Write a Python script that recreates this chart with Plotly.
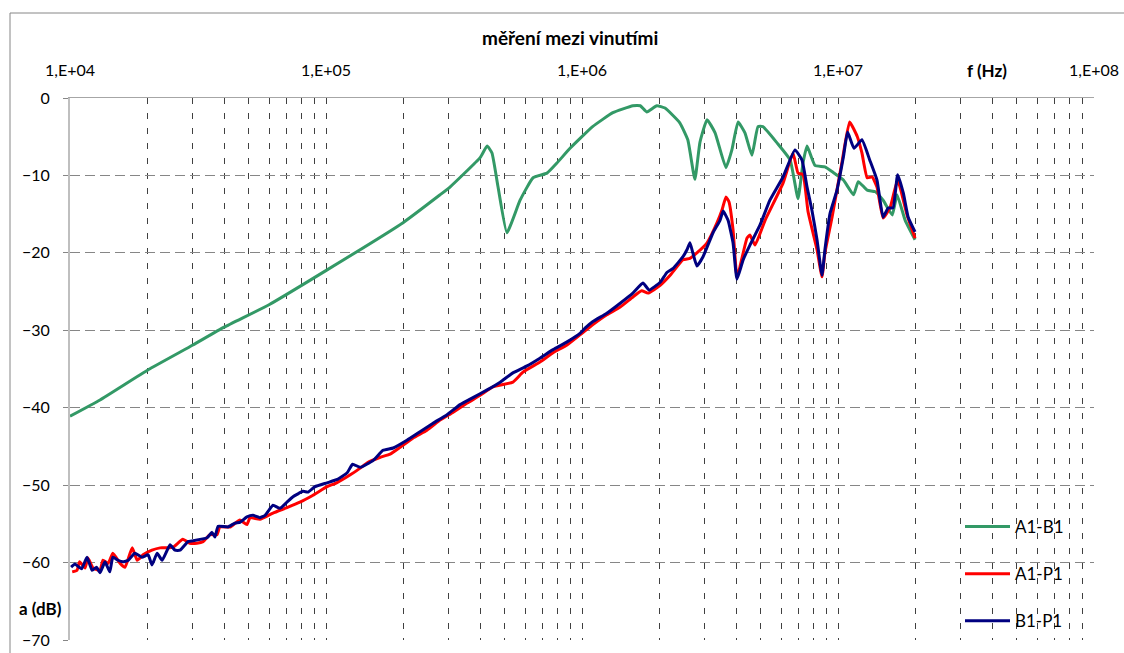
import plotly.graph_objects as go

# ---------------- data ----------------
f_ab = [1.00e4, 1.31e4, 2.02e4, 3.02e4, 4.00e4, 5.99e4, 1.01e5, 2.00e5, 2.79e5, 3.05e5,
        4.00e5, 4.26e5, 4.45e5, 4.70e5, 5.09e5, 5.73e5, 6.44e5, 7.30e5, 7.98e5, 8.98e5,
        1.10e6, 1.32e6, 1.58e6, 1.69e6, 1.79e6, 1.96e6, 2.11e6, 2.41e6, 2.59e6, 2.76e6,
        2.89e6, 3.08e6, 3.31e6, 3.65e6, 3.85e6, 4.07e6, 4.33e6, 4.61e6, 4.87e6, 5.09e6,
        5.78e6, 6.50e6, 6.98e6, 7.30e6, 7.57e6, 8.13e6, 8.89e6, 9.56e6, 1.05e7, 1.15e7,
        1.20e7, 1.30e7, 1.40e7, 1.50e7, 1.63e7, 1.70e7, 1.83e7, 2.00e7]
a_ab = [-41.1, -39.0, -35.1, -31.9, -29.6, -26.7, -22.2, -16.1, -12.5, -11.5,
        -7.7, -6.2, -7.1, -11.5, -17.4, -13.2, -10.3, -9.7, -8.4, -6.5,
        -3.7, -1.9, -1.0, -1.0, -1.8, -1.0, -1.3, -3.2, -5.4, -10.5,
        -5.7, -2.8, -4.5, -9.0, -6.7, -3.1, -4.5, -7.4, -3.7, -3.7,
        -5.8, -8.0, -13.0, -8.4, -6.2, -8.7, -8.9, -9.6, -10.6, -12.5,
        -10.8, -11.9, -12.1, -13.2, -15.1, -12.5, -15.8, -18.3]

f_ap = [1.02e4, 1.065e4, 1.09e4, 1.145e4, 1.175e4, 1.23e4, 1.31e4, 1.345e4, 1.41e4, 1.47e4,
        1.57e4, 1.64e4, 1.75e4, 1.83e4, 1.93e4, 2.09e4, 2.25e4, 2.39e4, 2.53e4, 2.76e4,
        2.94e4, 3.13e4, 3.31e4, 3.52e4, 3.75e4, 3.85e4, 4.22e4, 4.61e4, 4.91e4, 5.05e4,
        5.52e4, 6.21e4, 7.04e4, 7.91e4, 8.90e4, 1.01e5, 1.10e5, 1.24e5, 1.36e5, 1.45e5,
        1.63e5, 1.78e5, 1.95e5, 2.19e5, 2.48e5, 2.79e5, 3.13e5, 3.56e5, 4.00e5, 4.49e5,
        5.37e5, 5.88e5, 6.85e5, 7.71e5, 8.74e5, 9.82e5, 1.10e6, 1.25e6, 1.41e6, 1.58e6,
        1.71e6, 1.81e6, 2.02e6, 2.21e6, 2.48e6, 2.64e6, 2.81e6, 3.08e6, 3.37e6, 3.52e6,
        3.65e6, 3.75e6, 3.89e6, 4.03e6, 4.14e6, 4.41e6, 4.53e6, 4.74e6, 5.19e6, 6.10e6,
        6.67e6, 6.98e6, 7.30e6, 7.64e6, 8.28e6, 8.66e6, 8.89e6, 9.48e6, 1.04e7, 1.11e7,
        1.19e7, 1.24e7, 1.30e7, 1.36e7, 1.42e7, 1.50e7, 1.60e7, 1.71e7, 1.86e7, 2.00e7]
a_ap = [-61.2, -61.0, -59.9, -60.7, -59.4, -60.7, -61.0, -59.7, -60.1, -58.8,
        -60.1, -60.6, -58.1, -59.7, -59.0, -58.4, -58.1, -58.1, -58.0, -57.0,
        -57.5, -57.5, -57.3, -56.4, -56.4, -55.4, -55.4, -54.5, -55.1, -54.2,
        -54.4, -53.6, -52.9, -52.2, -51.3, -50.2, -49.7, -48.7, -47.8, -47.1,
        -46.4, -46.0, -45.1, -43.9, -42.9, -41.6, -40.6, -39.4, -38.4, -37.3,
        -36.7, -35.4, -34.1, -32.9, -31.9, -30.6, -29.3, -28.0, -27.0, -25.7,
        -24.9, -25.2, -24.2, -22.9, -20.9, -20.7, -20.0, -18.7, -16.1, -14.5,
        -12.8, -13.4, -17.0, -23.2, -21.8, -18.1, -17.7, -19.0, -15.8, -11.0,
        -7.1, -9.7, -9.9, -14.7, -19.6, -23.1, -20.0, -15.4, -8.0, -3.1,
        -5.0, -7.1, -10.3, -10.2, -11.5, -15.5, -14.1, -10.6, -15.1, -18.1]

f_bp = [1.01e4, 1.046e4, 1.11e4, 1.165e4, 1.22e4, 1.27e4, 1.31e4, 1.37e4, 1.43e4, 1.47e4,
        1.54e4, 1.61e4, 1.69e4, 1.79e4, 1.91e4, 2.02e4, 2.09e4, 2.19e4, 2.29e4, 2.46e4,
        2.57e4, 2.69e4, 2.89e4, 3.02e4, 3.43e4, 3.59e4, 3.68e4, 3.79e4, 4.14e4, 4.41e4,
        4.61e4, 4.91e4, 5.19e4, 5.52e4, 5.78e4, 6.21e4, 6.61e4, 7.04e4, 7.43e4, 8.13e4,
        8.51e4, 9.06e4, 1.01e5, 1.10e5, 1.21e5, 1.27e5, 1.36e5, 1.53e5, 1.67e5, 1.83e5,
        2.07e5, 2.33e5, 2.62e5, 2.97e5, 3.34e5, 3.75e5, 4.26e5, 4.79e5, 5.37e5, 6.10e5,
        6.85e5, 7.71e5, 8.74e5, 9.82e5, 1.03e6, 1.10e6, 1.25e6, 1.41e6, 1.58e6, 1.73e6,
        1.83e6, 2.02e6, 2.15e6, 2.27e6, 2.48e6, 2.57e6, 2.64e6, 2.71e6, 2.81e6, 2.97e6,
        3.25e6, 3.46e6, 3.56e6, 3.72e6, 3.89e6, 4.03e6, 4.26e6, 4.53e6, 4.96e6, 5.42e6,
        6.10e6, 6.79e6, 7.23e6, 7.57e6, 7.91e6, 8.28e6, 8.66e6, 8.89e6, 9.31e6, 9.91e6,
        1.05e7, 1.09e7, 1.155e7, 1.24e7, 1.33e7, 1.42e7, 1.50e7, 1.57e7, 1.64e7, 1.71e7,
        1.80e7, 1.88e7, 2.00e7]
a_bp = [-60.6, -60.2, -60.8, -59.3, -61.0, -60.6, -61.3, -59.9, -61.2, -59.3,
        -59.7, -59.9, -59.7, -58.8, -59.3, -59.0, -60.3, -58.8, -59.7, -57.7,
        -58.4, -58.4, -57.3, -57.2, -56.8, -56.1, -56.7, -55.3, -55.4, -54.9,
        -54.8, -54.1, -53.9, -54.2, -53.9, -52.6, -53.0, -52.2, -51.5, -50.8,
        -50.9, -50.2, -49.7, -49.3, -48.4, -47.3, -47.7, -46.8, -45.5, -45.2,
        -44.2, -43.1, -42.0, -40.9, -39.6, -38.7, -37.7, -36.7, -35.5, -34.6,
        -33.6, -32.5, -31.5, -30.4, -29.7, -28.9, -27.8, -26.5, -25.2, -23.9,
        -24.8, -23.8, -22.5, -22.0, -20.5, -19.6, -18.7, -20.0, -21.7, -20.5,
        -17.4, -15.8, -14.6, -15.8, -18.7, -23.4, -20.9, -19.0, -16.4, -13.2,
        -10.2, -6.7, -8.0, -11.5, -14.5, -18.3, -22.9, -19.6, -14.9, -11.9,
        -7.6, -4.4, -6.5, -5.4, -8.0, -10.6, -15.4, -14.2, -14.2, -9.9,
        -12.3, -15.4, -17.3]

x_tick_vals = [1e4, 1e5, 1e6, 1e7, 1e8]
x_tick_text = ["1,E+04", "1,E+05", "1,E+06", "1,E+07", "1,E+08"]
y_tick_vals = [0, -10, -20, -30, -40, -50, -60, -70]

series_names = ["A1-B1", "A1-P1", "B1-P1"]
series_colors = ["#339966", "#FF0000", "#000080"]

minor_vals = [m * 10 ** d for d in range(4, 8) for m in range(2, 10)]

FONT = "Lato"
W, H = 1124, 653
ML, MR, MT, MB = 70, 30, 98, 13
PW, PH = W - ML - MR, H - MT - MB


def px_x(x):
    return (x - ML) / PW


def px_y(y):
    return (H - MB - y) / PH


fig = go.Figure()
for i, (fx, ay) in enumerate([(f_ab, a_ab), (f_ap, a_ap), (f_bp, a_bp)]):
    fig.add_trace(go.Scatter(
        x=fx, y=ay, mode="lines", name=series_names[i],
        legendgroup=series_names[i],
        line=dict(color=series_colors[i], width=3, shape="spline", smoothing=0.4),
    ))

fig.update_layout(
    width=W, height=H,
    margin=dict(l=ML, r=MR, t=MT, b=MB, autoexpand=False),
    paper_bgcolor="white", plot_bgcolor="white",
    font=dict(family=FONT, size=16, color="#000000"),
    showlegend=True,
    legend=dict(
        x=px_x(960), y=px_y(509), xanchor="left", yanchor="top",
        bgcolor="rgba(255,255,255,0)", borderwidth=0,
        font=dict(family=FONT, size=17, color="#000000"),
        tracegroupgap=22, itemwidth=45,
    ),
    xaxis=dict(
        type="log", range=[4, 8], side="top",
        tickmode="array", tickvals=x_tick_vals, ticktext=x_tick_text,
        ticks="", ticklabelstandoff=15,
        showline=True, linecolor="#a6a6a6", linewidth=1,
        showgrid=True, gridcolor="#404040", gridwidth=1, griddash="6px,9px",
        minor=dict(tickvals=minor_vals, showgrid=True, gridcolor="#404040",
                   gridwidth=1, griddash="6px,9px", ticks=""),
        zeroline=False,
        tickfont=dict(family=FONT, size=16, color="#000000"),
    ),
    yaxis=dict(
        range=[-70, 0], tickmode="array", tickvals=y_tick_vals,
        ticks="outside", ticklen=5, tickcolor="#868686",
        showline=True, linecolor="#bfbfbf", linewidth=2,
        showgrid=True, gridcolor="#868686", gridwidth=1, griddash="10px,5px",
        zeroline=False, ticklabelstandoff=10,
        tickfont=dict(family=FONT, size=16, color="#000000"),
    ),
    shapes=[
        dict(type="rect", xref="paper", yref="paper",
             x0=px_x(10), x1=1.2, y0=-0.2, y1=px_y(13),
             line=dict(color="#868686", width=1), fillcolor="rgba(0,0,0,0)",
             layer="below"),
        dict(type="rect", xref="paper", yref="paper",
             x0=px_x(934), x1=px_x(1090), y0=px_y(639), y1=px_y(500),
             line=dict(width=0), fillcolor="white", layer="between"),
    ],
    annotations=[
        dict(text="<b>měření mezi vinutími</b>", xref="paper", yref="paper",
             x=px_x(570), y=px_y(38), xanchor="center", yanchor="middle",
             showarrow=False, font=dict(family=FONT, size=19, color="#000000")),
        dict(text="<b>f (Hz)</b>", xref="paper", yref="paper",
             x=px_x(987), y=px_y(70), xanchor="center", yanchor="middle",
             showarrow=False, font=dict(family=FONT, size=17, color="#000000")),
        dict(text="<b>a (dB)</b>", xref="paper", yref="paper",
             x=px_x(40), y=px_y(608), xanchor="center", yanchor="middle",
             showarrow=False, font=dict(family=FONT, size=17, color="#000000")),
    ],
)

fig.write_html("out.html")
